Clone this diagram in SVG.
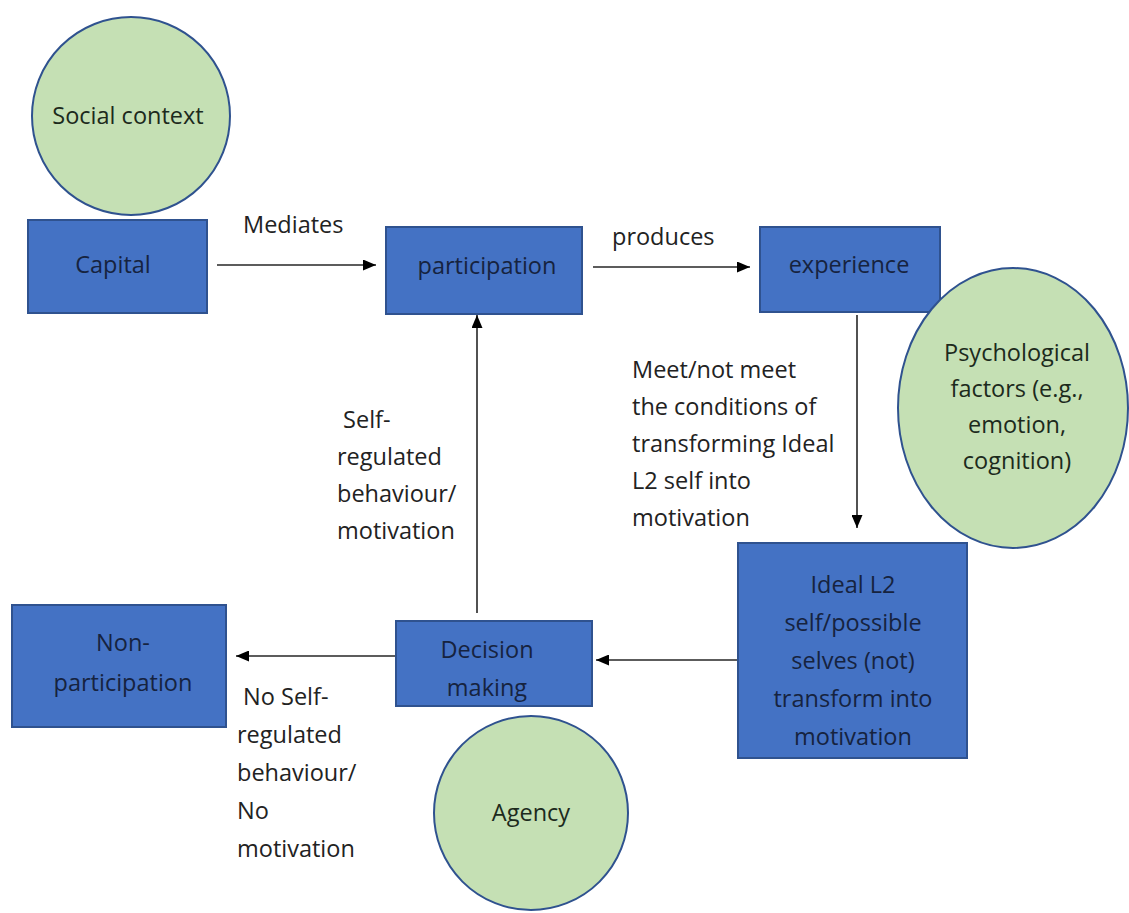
<svg xmlns="http://www.w3.org/2000/svg" width="1129" height="913" viewBox="0 0 1129 913">
<style>
.box{fill:#4472C4;stroke:#2F528F;stroke-width:2}
.circ{fill:#C5E0B4;stroke:#2F528F;stroke-width:2}
text{font-family:"Open Sans","Liberation Sans",sans-serif;font-size:23.5px}
.bt{fill:#16233f;text-anchor:middle}
.ct{fill:#1c2a1c;text-anchor:middle}
.lt{fill:#222}
.edge{stroke:#262626;stroke-width:1.6;fill:none;marker-end:url(#ah)}
</style>
<defs>
<marker id="ah" markerWidth="13" markerHeight="11" refX="13" refY="5.5" orient="auto" markerUnits="userSpaceOnUse">
<path d="M0,0 L13,5.5 L0,11 z" fill="#000"/>
</marker>
</defs>
<rect width="1129" height="913" fill="#fff"/>
<g id="connectors">
<line class="edge" x1="217" y1="265" x2="376" y2="265"/>
<line class="edge" x1="593" y1="267" x2="750" y2="267"/>
<line class="edge" x1="857" y1="315" x2="857" y2="528"/>
<line class="edge" x1="738" y1="660" x2="596" y2="660"/>
<line class="edge" x1="396" y1="656" x2="236" y2="656"/>
<line class="edge" x1="477" y1="613" x2="477" y2="315"/>
<text class="lt" x="243" y="233">Mediates</text>
<text class="lt" x="612" y="245">produces</text>
<text class="lt" x="632" y="378">Meet/not meet</text>
<text class="lt" x="632" y="415">the conditions of</text>
<text class="lt" x="632" y="452">transforming Ideal</text>
<text class="lt" x="632" y="489">L2 self into</text>
<text class="lt" x="632" y="526">motivation</text>
<text class="lt" x="337" y="428" xml:space="preserve"> Self-</text>
<text class="lt" x="337" y="465">regulated</text>
<text class="lt" x="337" y="502">behaviour/</text>
<text class="lt" x="337" y="539">motivation</text>
<text class="lt" x="237" y="705" xml:space="preserve"> No Self-</text>
<text class="lt" x="237" y="743">regulated</text>
<text class="lt" x="237" y="781">behaviour/</text>
<text class="lt" x="237" y="819">No</text>
<text class="lt" x="237" y="857">motivation</text>
</g>
<g id="social-context">
<circle class="circ" cx="131" cy="116" r="99"/>
<text class="ct" x="128" y="124">Social context</text>
</g>
<g id="capital">
<rect class="box" x="28" y="220" width="179" height="93"/>
<text class="bt" x="113" y="273">Capital</text>
</g>
<g id="participation">
<rect class="box" x="386" y="227" width="196" height="87"/>
<text class="bt" x="487" y="274">participation</text>
</g>
<g id="experience">
<rect class="box" x="760" y="227" width="180" height="85"/>
<text class="bt" x="849" y="273">experience</text>
</g>
<g id="psychological-factors">
<ellipse class="circ" cx="1013" cy="408" rx="115" ry="140"/>
<text class="ct" x="1017" y="361">Psychological</text>
<text class="ct" x="1017" y="397">factors (e.g.,</text>
<text class="ct" x="1017" y="433">emotion,</text>
<text class="ct" x="1017" y="469">cognition)</text>
</g>
<g id="ideal-l2-self">
<rect class="box" x="738" y="543" width="229" height="215"/>
<text class="bt" x="853" y="593">Ideal L2</text>
<text class="bt" x="853" y="631">self/possible</text>
<text class="bt" x="853" y="669">selves (not)</text>
<text class="bt" x="853" y="707">transform into</text>
<text class="bt" x="853" y="745">motivation</text>
</g>
<g id="decision-making">
<rect class="box" x="396" y="621" width="196" height="85"/>
<text class="bt" x="487" y="658">Decision</text>
<text class="bt" x="487" y="696">making</text>
</g>
<g id="non-participation">
<rect class="box" x="12" y="605" width="214" height="122"/>
<text class="bt" x="123" y="651">Non-</text>
<text class="bt" x="123" y="691">participation</text>
</g>
<g id="agency">
<circle class="circ" cx="531" cy="813" r="97"/>
<text class="ct" x="531" y="821">Agency</text>
</g>
</svg>
